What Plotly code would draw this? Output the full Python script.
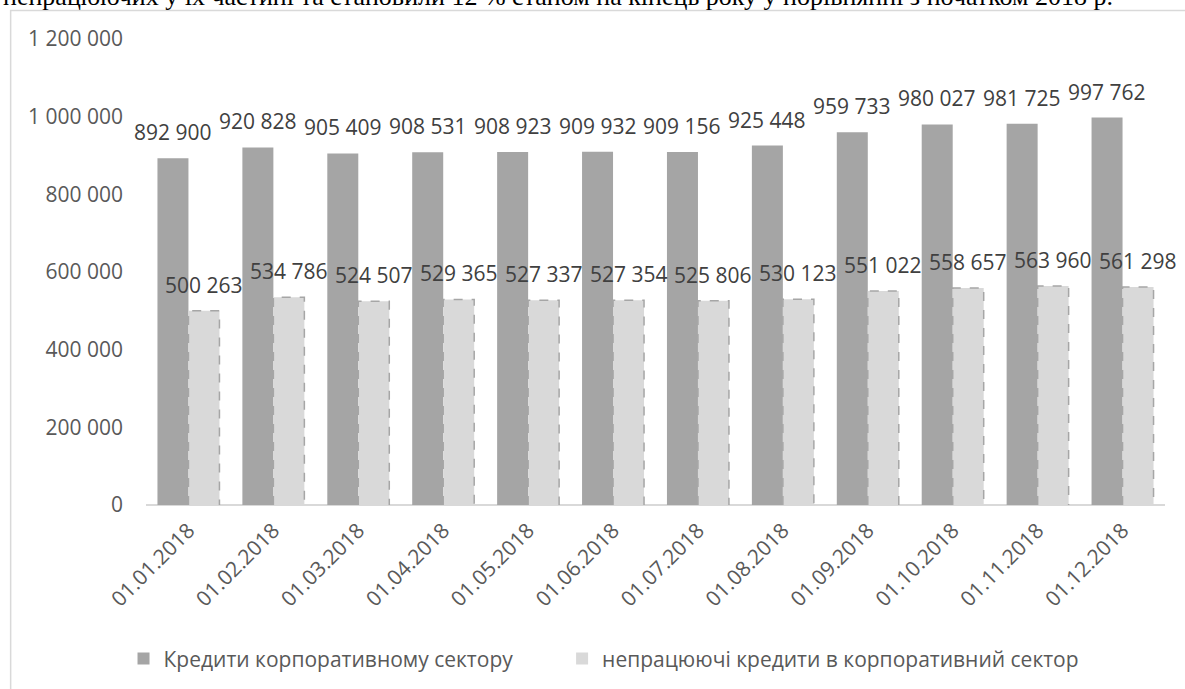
import plotly.graph_objects as go

dates = ["01.01.2018", "01.02.2018", "01.03.2018", "01.04.2018", "01.05.2018", "01.06.2018",
         "01.07.2018", "01.08.2018", "01.09.2018", "01.10.2018", "01.11.2018", "01.12.2018"]
corporate_loans = [892900, 920828, 905409, 908531, 908923, 909932,
                   909156, 925448, 959733, 980027, 981725, 997762]
npl_loans = [500263, 534786, 524507, 529365, 527337, 527354,
             525806, 530123, 551022, 558657, 563960, 561298]
name_corp = "Кредити корпоративному сектору"
name_npl = "непрацюючі кредити в корпоративний сектор"
header_text = "непрацюючих у їх частині та становили 12 % станом на кінець року у порівнянні з початком 2018 р."
y_ticks = [0, 200000, 400000, 600000, 800000, 1000000, 1200000]

W, H = 1185, 689
ML, MR, MT, MB = 145.5, 19.5, 38.5, 184
PW, PH = W - ML - MR, H - MT - MB

BW = 0.365
OFF = BW / 2
FONT = "Open Sans"
FS = 21

idx = list(range(len(dates)))
x_dark = [i - OFF for i in idx]
x_light = [i + OFF for i in idx]

fig = go.Figure()
fig.add_trace(go.Bar(x=x_dark, y=corporate_loans, width=BW, name=name_corp, legend="legend",
                     marker=dict(color="#A5A5A5", line=dict(width=0)), hoverinfo="y"))
fig.add_trace(go.Bar(x=x_light, y=npl_loans, width=BW, name=name_npl, legend="legend2",
                     marker=dict(color="#D9D9D9", line=dict(width=0)), hoverinfo="y"))

# dashed outline of the light bars
ox, oy = [], []
for xc, v in zip(x_light, npl_loans):
    xl, xr = xc - BW / 2, xc + BW / 2
    ox += [xl, xl, xr, xr, None]
    oy += [0, v, v, 0, None]
fig.add_trace(go.Scatter(x=ox, y=oy, mode="lines", showlegend=False, hoverinfo="skip",
                         line=dict(color="#A6A6A6", width=1.5, dash="dash")))

def fmt(v):
    return f"{v:,}".replace(",", " ")

annotations = []
for xs, vals in ((x_dark, corporate_loans), (x_light, npl_loans)):
    for xc, v in zip(xs, vals):
        annotations.append(dict(x=xc, y=v, xref="x", yref="y", text=fmt(v), showarrow=False,
                                yanchor="middle", xanchor="center", yshift=26,
                                font=dict(family=FONT, size=FS, color="#404040")))

annotations.append(dict(x=(0 - ML) / PW, y=(H - MB + 4) / PH, xref="paper", yref="paper",
                        text=header_text, showarrow=False, xanchor="left", yanchor="middle",
                        font=dict(family="Liberation Serif", size=26, color="#000000")))

shapes = [dict(type="rect", xref="paper", yref="paper",
               x0=(10 - ML) / PW, x1=(W + 20 - ML) / PW,
               y0=(H - MB - (H + 20)) / PH, y1=(H - MB - 10) / PH,
               line=dict(color="#D9D9D9", width=1.5), fillcolor="rgba(0,0,0,0)", layer="below")]

legend_common = dict(orientation="h", yanchor="middle", y=(H - MB - 659) / PH, xanchor="left",
                     font=dict(family=FONT, size=FS, color="#595959"), itemwidth=30,
                     bgcolor="rgba(0,0,0,0)")

fig.update_layout(
    width=W, height=H,
    margin=dict(l=ML, r=MR, t=MT, b=MB, autoexpand=False),
    paper_bgcolor="white", plot_bgcolor="white",
    separators=". ",
    barmode="overlay",
    showlegend=True,
    legend=dict(legend_common, x=(123 - ML) / PW),
    legend2=dict(legend_common, x=(562 - ML) / PW),
    xaxis=dict(range=[-0.5, len(dates) - 0.5], tickmode="array", tickvals=idx, ticktext=dates,
               tickangle=-45, showgrid=False, zeroline=False, showline=False, ticks="",
               ticklabelstandoff=8,
               tickfont=dict(family=FONT, size=FS, color="#595959")),
    yaxis=dict(range=[0, 1200000], tickmode="array", tickvals=y_ticks, tickformat=",d",
               showgrid=False, zeroline=True, zerolinecolor="#D9D9D9", zerolinewidth=2,
               showline=False, ticks="", ticklabelstandoff=22,
               tickfont=dict(family=FONT, size=FS, color="#595959")),
    annotations=annotations,
    shapes=shapes,
)

fig.write_html("out.html")
